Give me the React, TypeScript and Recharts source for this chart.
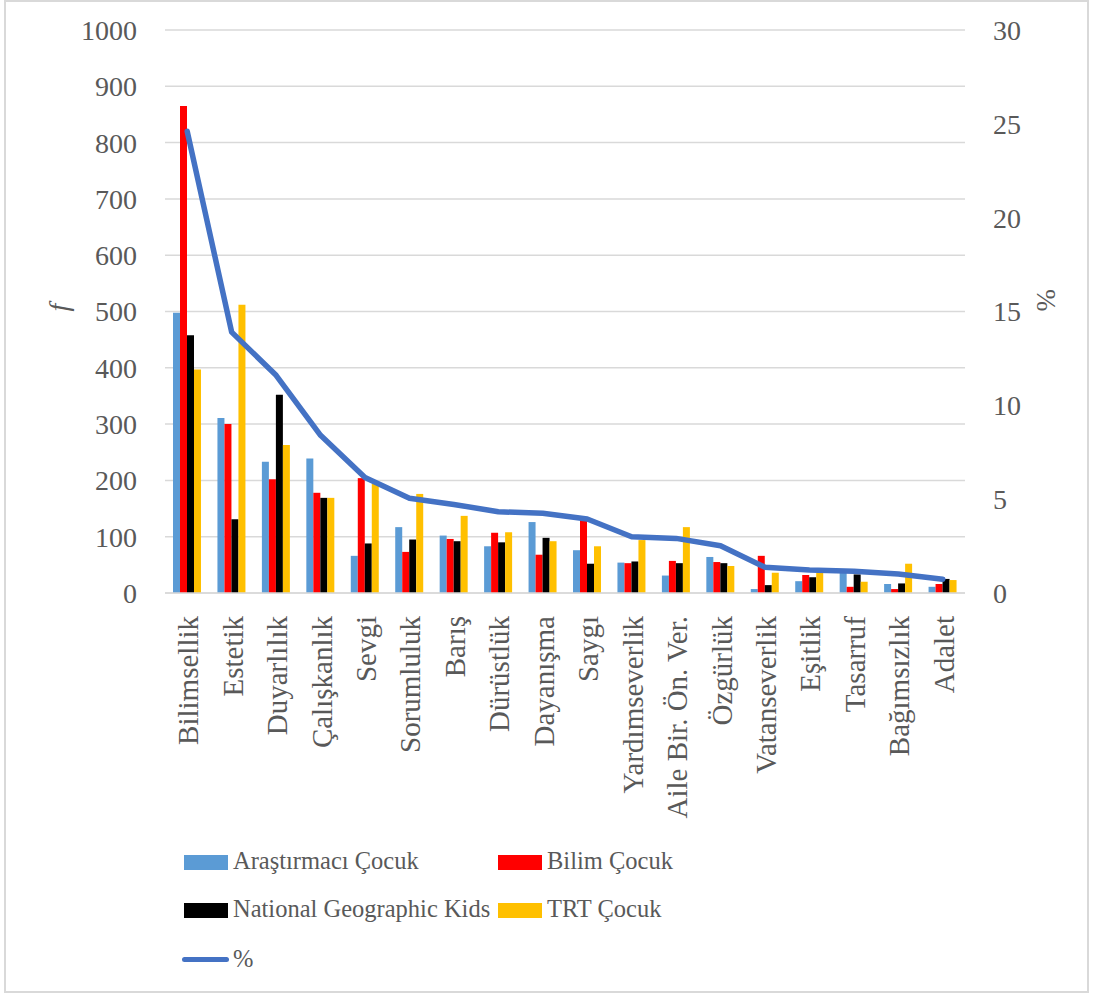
import React from "react";
import { ComposedChart, Bar, Line, XAxis, YAxis, CartesianGrid } from "recharts";

const categories = [
  "Bilimsellik", "Estetik", "Duyarlılık", "Çalışkanlık", "Sevgi", "Sorumluluk",
  "Barış", "Dürüstlük", "Dayanışma", "Saygı", "Yardımseverlik", "Aile Bir. Ön. Ver.",
  "Özgürlük", "Vatanseverlik", "Eşitlik", "Tasarruf", "Bağımsızlık", "Adalet",
];
const arastirmaci = [498, 311, 233, 239, 66, 117, 102, 83, 126, 76, 54, 31, 64, 7, 21, 37, 16, 11];
const bilim = [865, 300, 202, 178, 204, 73, 96, 107, 68, 135, 53, 57, 55, 66, 32, 11, 7, 16];
const natgeo = [458, 131, 352, 169, 88, 95, 92, 90, 98, 52, 56, 53, 53, 14, 28, 33, 17, 25];
const trt = [397, 512, 263, 169, 194, 176, 137, 108, 92, 83, 94, 117, 48, 36, 36, 20, 52, 23];
const percent = [24.6, 13.9, 11.6, 8.4, 6.15, 5.05, 4.72, 4.33, 4.25, 3.94, 3.0, 2.91, 2.52, 1.37, 1.23, 1.16, 1.01, 0.73];
const leftTicks = [0, 100, 200, 300, 400, 500, 600, 700, 800, 900, 1000];
const rightTicks = [0, 5, 10, 15, 20, 25, 30];

const data = categories.map((name, i) => ({
  name,
  a: arastirmaci[i],
  b: bilim[i],
  n: natgeo[i],
  t: trt[i],
  p: percent[i],
}));

const FONT = "'Liberation Serif', 'Times New Roman', serif";
const GRAY = "#595959";

const CatTick = (props: any) => {
  const { x, y, payload } = props;
  return (
    <text
      transform={`translate(${x + 1},${y + 15}) rotate(-90)`}
      textAnchor="end"
      dominantBaseline="central"
      fill={GRAY}
      fontSize={29}
      fontFamily={FONT}
    >
      {payload.value}
    </text>
  );
};

const legendRows = [
  [
    { label: "Araştırmacı Çocuk", color: "#5B9BD5" },
    { label: "Bilim Çocuk", color: "#FF0000" },
  ],
  [
    { label: "National Geographic Kids", color: "#000000" },
    { label: "TRT Çocuk", color: "#FFC000" },
  ],
];

function ChartLegend() {
  const text: React.CSSProperties = { position: "absolute", fontFamily: FONT, fontSize: 24.5, color: GRAY, lineHeight: "30px", whiteSpace: "nowrap" };
  return (
    <>
      {legendRows.map((row, r) =>
        row.map((item, c) => {
          const x = c === 0 ? 184 : 498;
          const y = 862 + r * 48;
          return (
            <React.Fragment key={item.label}>
              <div style={{ position: "absolute", left: x, top: y - 7, width: 44, height: 15, background: item.color }} />
              <div style={{ ...text, left: x + 49, top: y - 16 }}>{item.label}</div>
            </React.Fragment>
          );
        })
      )}
      <div style={{ position: "absolute", left: 182, top: 957, width: 47, height: 5, borderRadius: 3, background: "#4472C4" }} />
      <div style={{ ...text, left: 233, top: 944 }}>%</div>
    </>
  );
}

export default function App() {
  return (
    <div style={{ position: "absolute", left: 0, top: 0, width: 1094, height: 997, background: "#fff" }}>
      <div style={{ position: "absolute", left: 4, top: 0, width: 1085, height: 993, border: "2px solid #d9d9d9", boxSizing: "border-box" }} />
      <ComposedChart
        width={1094}
        height={997}
        data={data}
        margin={{ top: 30, right: 0, bottom: 154, left: 0 }}
        barGap={0}
        barCategoryGap="17%"
      >
        <CartesianGrid vertical={false} stroke="#d9d9d9" strokeWidth={1.5} yAxisId="left" />
        <XAxis
          dataKey="name"
          height={250}
          interval={0}
          tickLine={false}
          axisLine={{ stroke: "#d9d9d9", strokeWidth: 1.5 }}
          tick={<CatTick />}
        />
        <YAxis
          yAxisId="left"
          width={165}
          domain={[0, 1000]}
          ticks={leftTicks}
          tickLine={false}
          axisLine={false}
          tickMargin={22}
          tick={{ fill: GRAY, fontSize: 28, fontFamily: FONT }}
          label={{ value: "f", angle: -90, position: "insideLeft", offset: 58, fill: GRAY, fontSize: 28, fontFamily: FONT, fontStyle: "italic" }}
        />
        <YAxis
          yAxisId="right"
          orientation="right"
          width={129}
          domain={[0, 30]}
          ticks={rightTicks}
          tickLine={false}
          axisLine={false}
          tickMargin={22}
          tick={{ fill: GRAY, fontSize: 28, fontFamily: FONT }}
          label={{ value: "%", angle: 90, position: "insideRight", offset: 47, fill: GRAY, fontSize: 27, fontFamily: FONT }}
        />
        <Bar yAxisId="left" dataKey="a" fill="#5B9BD5" barSize={7} isAnimationActive={false} />
        <Bar yAxisId="left" dataKey="b" fill="#FF0000" barSize={7} isAnimationActive={false} />
        <Bar yAxisId="left" dataKey="n" fill="#000000" barSize={7} isAnimationActive={false} />
        <Bar yAxisId="left" dataKey="t" fill="#FFC000" barSize={7} isAnimationActive={false} />
        <Line
          yAxisId="right"
          type="linear"
          dataKey="p"
          stroke="#4472C4"
          strokeWidth={5.5}
          strokeLinecap="round"
          strokeLinejoin="round"
          dot={false}
          activeDot={false}
          isAnimationActive={false}
        />
      </ComposedChart>
      <ChartLegend />
    </div>
  );
}
